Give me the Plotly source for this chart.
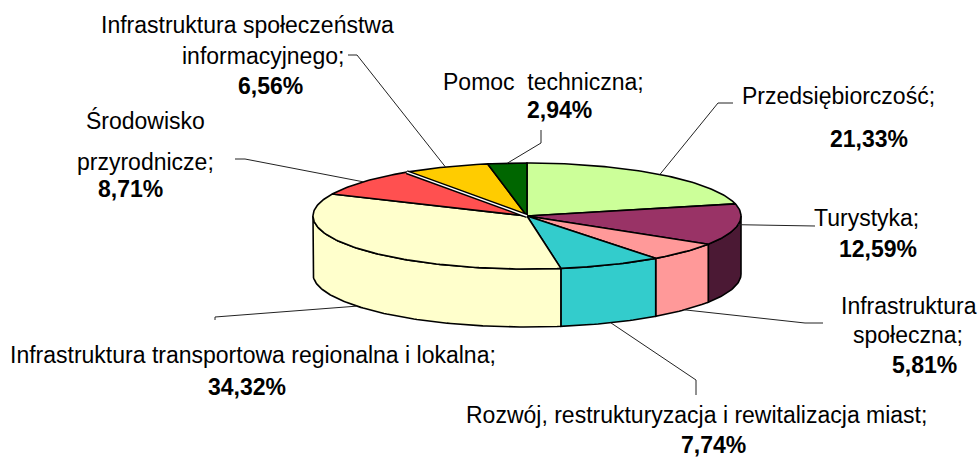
import math
import plotly.graph_objects as go

# ---------------- data ----------------
categories = [
    "Przedsiębiorczość",
    "Turystyka",
    "Infrastruktura społeczna",
    "Rozwój, restrukturyzacja i rewitalizacja miast",
    "Infrastruktura transportowa regionalna i lokalna",
    "Środowisko przyrodnicze",
    "Infrastruktura społeczeństwa informacyjnego",
    "Pomoc  techniczna",
]
values = [21.33, 12.59, 5.81, 7.74, 34.32, 8.71, 6.56, 2.94]
colors = ["#CCFF99", "#993366", "#FF9999", "#33CCCC",
          "#FFFFCC", "#FF5050", "#FFCC00", "#006600"]
side_colors = ["#A3CC7A", "#4B1934", "#FF9999", "#33CCCC",
               "#FFFFCC", "#CC4040", "#CCA300", "#004D00"]

# ---------------- layout / style ----------------
W, H = 979, 457
CX, CY = 527, 216      # centre of top face (px)
RX, RY = 214, 53       # radii of top ellipse (px)
DEPTH = 58             # thickness of pie (px)
FONT = "Arial, Liberation Sans, sans-serif"
FS = 23
GAP_AFTER = 5          # slice index followed by the thin white separator

# words per line for the category name, then centre positions of each line and pct
label_layout = [
    dict(words=[1], lines=[(838, 96)], pct=(869, 139),
         leader=[(718, 103), (733, 103)]),
    dict(words=[1], lines=[(866, 218)], pct=(878, 249),
         leader=[(815, 226)]),
    dict(words=[1, 1], lines=[(909, 306), (908, 335)], pct=(924, 365),
         leader=[(805, 323), (823, 323)]),
    dict(words=[5], lines=[(696, 415)], pct=(713, 445),
         leader=[(696, 380), (696, 395)]),
    dict(words=[5], lines=[(253, 355)], pct=(247, 387),
         leader=[(215, 317), (215, 320)]),
    dict(words=[1, 1], lines=[(145, 120), (145, 162)], pct=(130, 189),
         leader=[(245, 159), (235, 159)]),
    dict(words=[2, 1], lines=[(247, 25), (263, 56)], pct=(270, 86),
         leader=[(357, 55), (348, 55)]),
    dict(words=[0], lines=[(543, 82)], pct=(559, 110),
         leader=[(541, 143), (541, 130)]),
]


def top_pt(theta):
    t = math.radians(theta)
    return CX + RX * math.sin(t), CY - RY * math.cos(t)


def bot_pt(theta):
    x, y = top_pt(theta)
    return x, y + DEPTH


def arc(a, b, fn):
    n = max(2, int(abs(b - a)) + 1)
    return [fn(a + (b - a) * i / (n - 1)) for i in range(n)]


total = sum(values)
starts, ends = [], []
acc = 0.0
for v in values:
    starts.append(acc / total * 360)
    acc += v
    ends.append(acc / total * 360)

fig = go.Figure()

# side walls (visible front half: 90..270 deg)
for i in range(len(values)):
    a = max(starts[i], 90)
    b = min(ends[i], 270)
    if b <= a:
        continue
    pts = arc(a, b, top_pt) + arc(b, a, bot_pt)
    pts.append(pts[0])
    fig.add_trace(go.Scatter(
        x=[p[0] for p in pts], y=[p[1] for p in pts],
        mode="lines", fill="toself", fillcolor=side_colors[i],
        line=dict(color="black", width=1.6), hoverinfo="skip",
        showlegend=False))

# top faces
for i in range(len(values)):
    pts = [(CX, CY)] + arc(starts[i], ends[i], top_pt) + [(CX, CY)]
    fig.add_trace(go.Scatter(
        x=[p[0] for p in pts], y=[p[1] for p in pts],
        mode="lines", fill="toself", fillcolor=colors[i],
        line=dict(color="black", width=1.6), hoverinfo="skip",
        showlegend=False))

# thin white separator (double line) between two slices
ex, ey = top_pt(ends[GAP_AFTER])
for col, wd in (("black", 4.2), ("white", 1.4)):
    fig.add_trace(go.Scatter(
        x=[CX, ex], y=[CY, ey], mode="lines",
        line=dict(color=col, width=wd), hoverinfo="skip", showlegend=False))

# leader lines
for i in range(len(values)):
    mid = (starts[i] + ends[i]) / 2
    if math.cos(math.radians(mid)) > -0.3:
        anchor = top_pt(mid)
    else:
        anchor = bot_pt(mid)
    pts = [anchor] + label_layout[i]["leader"]
    fig.add_trace(go.Scatter(
        x=[p[0] for p in pts], y=[p[1] for p in pts],
        mode="lines", line=dict(color="#222222", width=1),
        hoverinfo="skip", showlegend=False))

# labels
annotations = []
for i, name in enumerate(categories):
    lay = label_layout[i]
    words = name.split(" ") if "  " not in name else [name.replace("  ", "\u00a0 ")]
    counts = lay["words"]
    lines = []
    k = 0
    for j, c in enumerate(counts):
        if j == len(counts) - 1:
            chunk = words[k:]
        else:
            chunk = words[k:k + c]
        k += c
        lines.append(" ".join(chunk))
    lines[-1] = lines[-1] + ";"
    for txt, (x, y) in zip(lines, lay["lines"]):
        annotations.append(dict(
            x=x, y=y, xref="x", yref="y", text=txt, showarrow=False,
            xanchor="center", yanchor="middle",
            font=dict(family=FONT, size=FS, color="black")))
    pct = f"{values[i]:.2f}".replace(".", ",") + "%"
    annotations.append(dict(
        x=lay["pct"][0], y=lay["pct"][1], xref="x", yref="y",
        text=f"<b>{pct}</b>", showarrow=False,
        xanchor="center", yanchor="middle",
        font=dict(family=FONT, size=FS, color="black")))

fig.update_layout(
    width=W, height=H,
    margin=dict(l=0, r=0, t=0, b=0),
    paper_bgcolor="white", plot_bgcolor="white",
    xaxis=dict(range=[0, W], visible=False, fixedrange=True),
    yaxis=dict(range=[H, 0], visible=False, fixedrange=True),
    annotations=annotations,
    showlegend=False,
)

fig.write_html("out.html", config={"displayModeBar": False})
